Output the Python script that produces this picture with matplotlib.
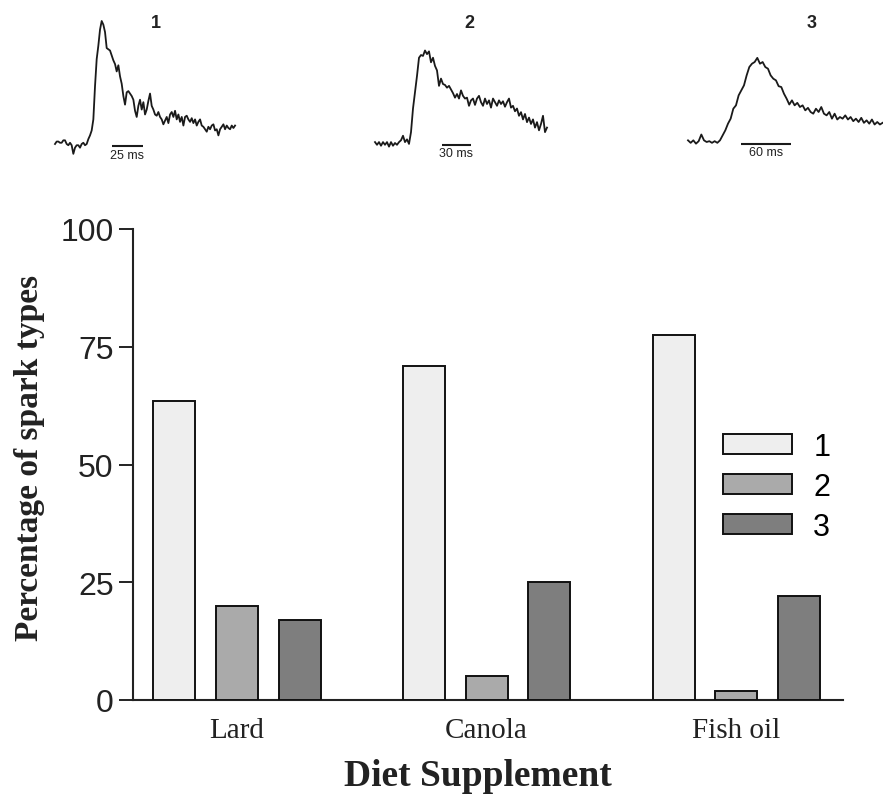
import numpy as np
import matplotlib.pyplot as plt

# Spark-type percentages per diet
diets = ['Lard', 'Canola', 'Fish oil']
spark_types = ['1', '2', '3']
type1 = [63.5, 71, 77.5]
type2 = [20, 5, 2]
type3 = [17, 25, 22]
bar_colors = ['#eeeeee', '#aaaaaa', '#7e7e7e']

# Example spark traces (fluorescence, normalised to peak), sampled at fixed steps
trace1_dt = 1.316  # ms
trace1 = [0.00, 0.02, 0.02, 0.01, 0.01, 0.03, 0.03, 0.00, -0.01, 0.01, -0.01,
          -0.08, -0.03, -0.01, -0.01, -0.03, 0.00, 0.01, -0.01, 0.00, 0.04,
          0.07, 0.11, 0.20, 0.47, 0.69, 0.80, 0.93, 1.00, 0.97, 0.91, 0.78,
          0.77, 0.76, 0.72, 0.68, 0.65, 0.59, 0.64, 0.55, 0.49, 0.39, 0.32,
          0.42, 0.43, 0.41, 0.39, 0.36, 0.27, 0.22, 0.31, 0.36, 0.28, 0.34,
          0.24, 0.28, 0.35, 0.41, 0.31, 0.28, 0.24, 0.23, 0.26, 0.22, 0.20,
          0.16, 0.19, 0.22, 0.17, 0.24, 0.26, 0.22, 0.27, 0.20, 0.24, 0.18,
          0.22, 0.15, 0.22, 0.23, 0.20, 0.18, 0.21, 0.17, 0.20, 0.15, 0.18,
          0.20, 0.15, 0.14, 0.12, 0.10, 0.14, 0.12, 0.15, 0.16, 0.11, 0.12,
          0.07, 0.12, 0.14, 0.16, 0.12, 0.15, 0.13, 0.12, 0.15, 0.13, 0.15]

trace2_dt = 2.045  # ms
trace2 = [0.01, -0.02, 0.01, -0.03, 0.01, -0.02, 0.01, -0.04, 0.01, -0.03,
          0.00, -0.02, 0.01, 0.03, 0.08, 0.01, 0.04, -0.01, 0.12, 0.38, 0.56,
          0.74, 0.94, 0.97, 0.96, 1.02, 0.98, 1.01, 0.89, 0.94, 0.85, 0.80,
          0.63, 0.71, 0.65, 0.64, 0.61, 0.63, 0.59, 0.55, 0.50, 0.54, 0.49,
          0.58, 0.52, 0.49, 0.50, 0.41, 0.47, 0.49, 0.42, 0.49, 0.52, 0.45,
          0.41, 0.49, 0.43, 0.47, 0.39, 0.49, 0.45, 0.41, 0.47, 0.43, 0.46,
          0.40, 0.45, 0.49, 0.39, 0.41, 0.35, 0.38, 0.30, 0.34, 0.26, 0.32,
          0.23, 0.28, 0.21, 0.26, 0.17, 0.23, 0.14, 0.21, 0.30, 0.12, 0.17]

trace3_dt = 3.2  # ms
trace3 = [0.02, -0.01, 0.02, -0.02, 0.01, 0.09, 0.02, 0.00, 0.01, -0.01,
          0.01, -0.01, 0.02, 0.08, 0.14, 0.22, 0.28, 0.40, 0.44, 0.56, 0.62,
          0.68, 0.80, 0.90, 0.94, 0.96, 1.01, 0.94, 0.96, 0.90, 0.88, 0.80,
          0.76, 0.74, 0.67, 0.66, 0.58, 0.52, 0.45, 0.50, 0.44, 0.47, 0.42,
          0.44, 0.38, 0.41, 0.36, 0.34, 0.40, 0.36, 0.42, 0.34, 0.32, 0.36,
          0.28, 0.34, 0.27, 0.30, 0.28, 0.32, 0.27, 0.30, 0.25, 0.28, 0.24,
          0.29, 0.23, 0.26, 0.22, 0.27, 0.21, 0.24, 0.21, 0.23]

scale_bars = [25, 30, 60]  # ms
scale_starts = [44.7, 68.3, 64.0]  # ms

W, H = 883, 803
fig = plt.figure(figsize=(W / 100, H / 100), dpi=100)

serif = 'Liberation Serif'
sans = 'Liberation Sans'

# ---- bar chart ----
ax = fig.add_axes([133 / W, 1 - 701 / H, (843 - 133) / W, (701 - 230) / H])
x = np.arange(len(diets))
width = 0.168
offset = 0.251
for i, (vals, c, lab) in enumerate(zip([type1, type2, type3], bar_colors, spark_types)):
    ax.bar(x + (i - 1) * offset, vals, width, color=c, edgecolor='#111111',
           linewidth=1.4, label=lab, zorder=3)

ax.set_xlim(-0.416, 2.427)
ax.set_ylim(0, 100)
ax.set_yticks([0, 25, 50, 75, 100])
ax.set_xticks(x)
ax.set_xticklabels(diets, fontfamily=serif, fontsize=21)
for t in ax.get_yticklabels():
    t.set_fontfamily(sans)
    t.set_fontsize(23)
ax.tick_params(axis='y', direction='out', length=10, width=1.4, pad=4, colors='#222222')
ax.tick_params(axis='x', length=0, pad=12, colors='#222222')
for side in ['top', 'right']:
    ax.spines[side].set_visible(False)
for side in ['left', 'bottom']:
    ax.spines[side].set_linewidth(1.5)
    ax.spines[side].set_color('#222222')

fig.text(30 / W, 1 - 458 / H, 'Percentage of spark types', rotation=90,
         ha='center', va='center', fontfamily=serif, fontweight='bold',
         fontsize=24, color='#222222')
fig.text(478 / W, 1 - 777 / H, 'Diet Supplement', ha='center', va='center',
         fontfamily=serif, fontweight='bold', fontsize=27, color='#222222')

ax.legend(loc='upper left', bbox_to_anchor=(723 / W, 1 - 433 / H),
          bbox_transform=fig.transFigure, frameon=False, borderpad=0,
          borderaxespad=0, handlelength=2.25, handleheight=0.64,
          handletextpad=0.7, labelspacing=0.32,
          prop={'family': sans, 'size': 22})

# ---- spark traces ----
insets = [
    # left px, baseline px, px per ms, px per unit
    (trace1, trace1_dt, 55, 145, 1.267, 123.0, (156, 24)),
    (trace2, trace2_dt, 375, 144, 0.978, 90.7, (469, 23)),
    (trace3, trace3_dt, 688, 143, 0.833, 83.3, (812, 23)),
]
lo, hi = -0.35, 1.1
for k, (vals, dt, x0, base, ppms, ppu, num_pos) in enumerate(insets):
    t = np.arange(len(vals)) * dt
    tmax = t[-1]
    top = base - hi * ppu
    bottom = base - lo * ppu
    iax = fig.add_axes([x0 / W, 1 - bottom / H, tmax * ppms / W, (bottom - top) / H])
    iax.plot(t, vals, color='#1a1a1a', linewidth=1.3, clip_on=False)
    t0 = scale_starts[k]
    L = scale_bars[k]
    iax.plot([t0, t0 + L], [-0.02, -0.02], color='#1a1a1a', linewidth=1.5,
             solid_capstyle='butt', clip_on=False)
    iax.annotate(f'{L} ms', (t0 + L / 2, -0.02), xytext=(0, -1.5),
                 textcoords='offset points', ha='center', va='top',
                 fontfamily=sans, fontsize=9, color='#222222')
    iax.set_xlim(0, tmax)
    iax.set_ylim(lo, hi)
    iax.axis('off')
    fig.text(num_pos[0] / W, 1 - num_pos[1] / H, spark_types[k], ha='center',
             va='center', fontfamily=sans, fontweight='bold', fontsize=13,
             color='#222222')

fig.savefig('out.png', dpi=100)
